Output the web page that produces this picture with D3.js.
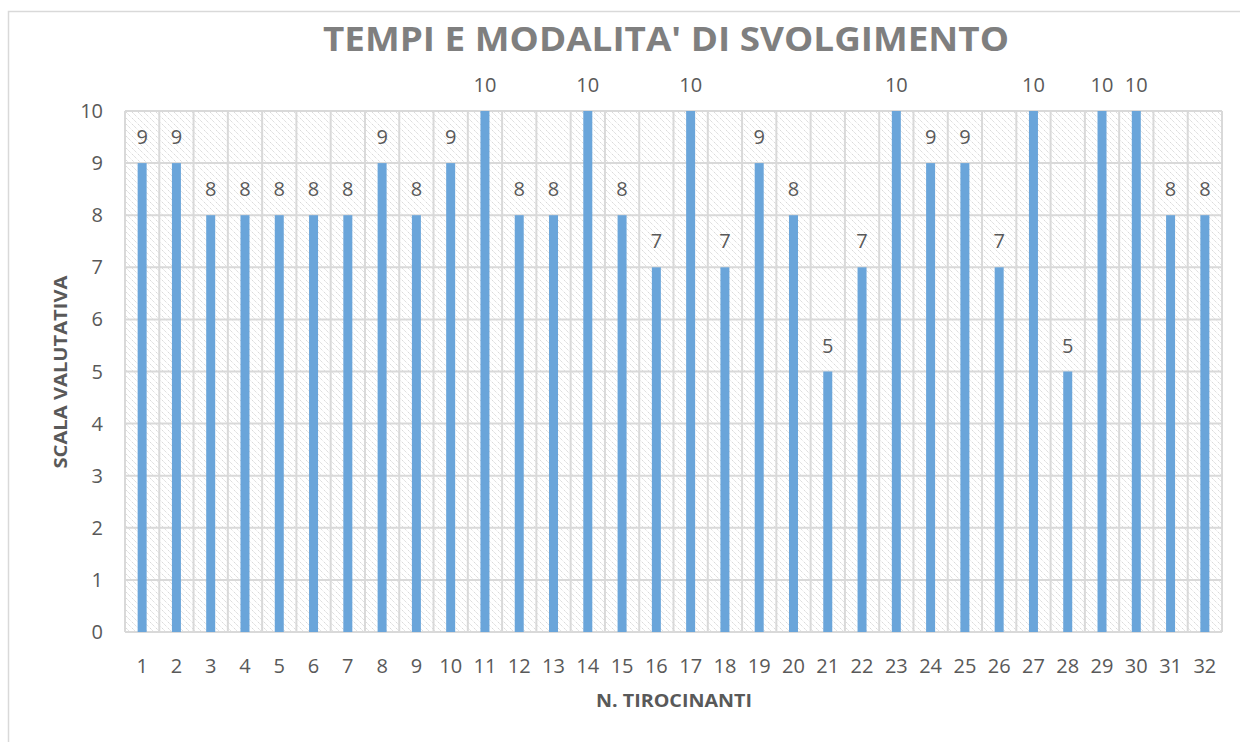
<!DOCTYPE html>
<meta charset="utf-8">
<style>
body { margin: 0; background: #fff; }
text { font-family: "Open Sans", "Liberation Sans", sans-serif; fill: #595959; }
</style>
<svg width="1240" height="742"></svg>
<script src="https://cdn.jsdelivr.net/npm/d3@7"></script>
<script>
var tirocinanti = d3.range(1, 33).map(String);
var punteggi = [9,9,8,8,8,8,8,9,8,9,10,8,8,10,8,7,10,7,9,8,5,7,10,9,9,7,10,5,10,10,8,8];
var yTicks = [0,1,2,3,4,5,6,7,8,9,10];

var svg = d3.select("svg"),
    margin = {top: 111, right: 18, bottom: 110, left: 125},
    width = 1240 - margin.left - margin.right,
    height = 742 - margin.top - margin.bottom;

// hatch pattern for the plot background
var defs = svg.append("defs");
var pat = defs.append("pattern")
    .attr("id", "hatch")
    .attr("patternUnits", "userSpaceOnUse")
    .attr("width", 6).attr("height", 6);
pat.append("path")
    .attr("d", "M-1,-1 L7,7 M-1,5 L1,7 M5,-1 L7,1")
    .attr("stroke", "#d2d2d2")
    .attr("stroke-width", 1)
    .attr("stroke-dasharray", "1.5,1");

// chart frame
svg.append("rect")
    .attr("x", 8.5).attr("y", 11.5)
    .attr("width", 1240).attr("height", 760)
    .attr("fill", "none")
    .attr("stroke", "#d9d9d9")
    .attr("stroke-width", 1.5);

var g = svg.append("g").attr("transform", "translate(" + margin.left + "," + margin.top + ")");

var x = d3.scaleBand().domain(tirocinanti).range([0, width]).paddingInner(0).paddingOuter(0);
var y = d3.scaleLinear().domain([0, 10]).range([height, 0]);

g.append("rect")
    .attr("width", width).attr("height", height)
    .attr("fill", "url(#hatch)");

// grid
g.selectAll(".hgrid").data(yTicks).enter().append("line")
    .attr("x1", 0).attr("x2", width)
    .attr("y1", function(d){return y(d);}).attr("y2", function(d){return y(d);})
    .attr("stroke", "#d9d9d9").attr("stroke-width", 2);
g.selectAll(".vgrid").data(tirocinanti.concat(["end"])).enter().append("line")
    .attr("x1", function(d, i){return i * x.bandwidth();})
    .attr("x2", function(d, i){return i * x.bandwidth();})
    .attr("y1", 0).attr("y2", height)
    .attr("stroke", "#d9d9d9").attr("stroke-width", 2);

// bars
var barW = 9;
g.selectAll(".bar").data(punteggi).enter().append("rect")
    .attr("x", function(d, i){return x(tirocinanti[i]) + x.bandwidth() / 2 - barW / 2;})
    .attr("y", function(d){return y(d);})
    .attr("width", barW)
    .attr("height", function(d){return height - y(d);})
    .attr("fill", "#6aa5da");

// data labels
g.selectAll(".lbl").data(punteggi).enter().append("text")
    .attr("x", function(d, i){return x(tirocinanti[i]) + x.bandwidth() / 2;})
    .attr("y", function(d){return y(d) - 19;})
    .attr("text-anchor", "middle")
    .style("font-size", "20px")
    .text(function(d){return d;});

// y axis labels
g.selectAll(".ytick").data(yTicks).enter().append("text")
    .attr("x", -22)
    .attr("y", function(d){return y(d) + 7;})
    .attr("text-anchor", "end")
    .style("font-size", "20px")
    .text(function(d){return d;});

// x axis labels
g.selectAll(".xtick").data(tirocinanti).enter().append("text")
    .attr("x", function(d){return x(d) + x.bandwidth() / 2;})
    .attr("y", height + 41)
    .attr("text-anchor", "middle")
    .style("font-size", "20px")
    .text(function(d){return d;});

// titles
svg.append("text")
    .attr("x", 666).attr("y", 51)
    .attr("text-anchor", "middle")
    .style("font-size", "34px").style("font-weight", "bold")
    .style("fill", "#7f7f7f")
    .attr("textLength", 686).attr("lengthAdjust", "spacingAndGlyphs")
    .text("TEMPI E MODALITA' DI SVOLGIMENTO");

svg.append("text")
    .attr("x", 674).attr("y", 707)
    .attr("text-anchor", "middle")
    .style("font-size", "18px").style("font-weight", "bold")
    .attr("textLength", 156).attr("lengthAdjust", "spacingAndGlyphs")
    .text("N. TIROCINANTI");

svg.append("text")
    .attr("transform", "translate(67,372) rotate(-90)")
    .attr("text-anchor", "middle")
    .style("font-size", "18px").style("font-weight", "bold")
    .attr("textLength", 193).attr("lengthAdjust", "spacingAndGlyphs")
    .text("SCALA VALUTATIVA");
</script>
